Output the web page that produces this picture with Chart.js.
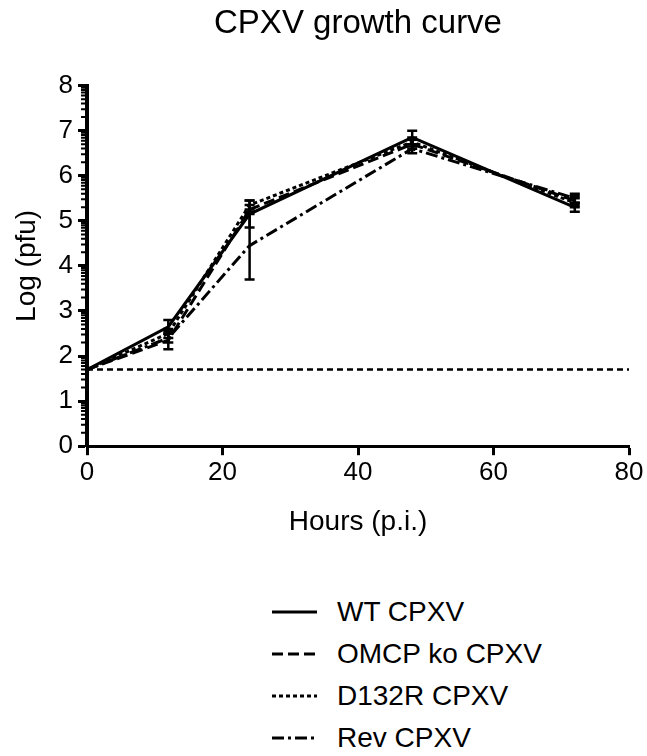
<!DOCTYPE html>
<html lang="en">
<head>
    <meta charset="UTF-8">
    <script src="https://cdn.jsdelivr.net/npm/chart.js@4.4.0/dist/chart.umd.min.js"></script>
    <title>CPXV growth curve</title>
    <style>
        body { margin: 0; background: #fff; font-family: "Liberation Sans", Arial, sans-serif; }
        #wrap { position: relative; width: 647px; height: 756px; }
        #box { position: absolute; left: 0; top: 0; width: 647px; height: 560px; }
        #legend { position: absolute; left: 272px; top: 591px; }
        .row { height: 42px; display: flex; align-items: center; font-size: 28px; color: #000; }
        .row svg { width: 45px; height: 10px; margin-right: 20px; }
    </style>
</head>
<body>
    <div id="wrap">
        <div id="box"><canvas id="myChart"></canvas></div>
        <div id="legend"></div>
    </div>
    <script>

        // hours post infection
        var hours = [0, 12, 24, 48, 72];

        var seriesNames = ['WT CPXV', 'OMCP ko CPXV', 'D132R CPXV', 'Rev CPXV'];
        var wtVals   = [1.7, 2.65, 5.15, 6.85, 5.3];
        var omcpVals = [1.7, 2.35, 5.25, 6.7, 5.45];
        var d132Vals = [1.7, 2.5, 5.35, 6.75, 5.4];
        var revVals  = [1.7, 2.4, 4.45, 6.6, 5.5];

        // SEM
        var wtErr   = [0, 0.15, 0.3, 0.15, 0.1];
        var omcpErr = [0, 0.2, 0.1, 0.1, 0.1];
        var d132Err = [0, 0.1, 0.1, 0.1, 0.1];
        var revErr  = [0, 0.1, 0.75, 0.1, 0.1];

        // detection limit
        var limitX = [0, 80];
        var limitY = [1.7, 1.7];

        var yTickLabels = ['0', '1', '2', '3', '4', '5', '6', '7', '8'];

        var dashes = [[], [11, 5], [4, 3], [12, 4, 3, 4]];

        function pts(xs, ys) {
            return xs.map(function (x, i) { return { x: x, y: ys[i] }; });
        }

        var allVals = [wtVals, omcpVals, d132Vals, revVals];
        var allErr = [wtErr, omcpErr, d132Err, revErr];

        var datasets = seriesNames.map(function (name, i) {
            return {
                label: name,
                data: pts(hours, allVals[i]),
                errors: allErr[i],
                borderColor: '#000',
                borderWidth: 3,
                borderDash: dashes[i],
                pointRadius: 0,
                fill: false
            };
        });
        datasets.push({
            label: 'limit',
            data: pts(limitX, limitY),
            borderColor: '#000',
            borderWidth: 2.5,
            borderDash: [6, 4],
            pointRadius: 0,
            fill: false
        });

        // error bars drawn from the data through the scales
        var errorBars = {
            id: 'errorBars',
            afterDatasetsDraw: function (chart) {
                var ctx = chart.ctx;
                var xs = chart.scales.x, ys = chart.scales.y;
                ctx.save();
                ctx.strokeStyle = '#000';
                ctx.lineWidth = 2.5;
                ctx.setLineDash([]);
                chart.data.datasets.forEach(function (ds) {
                    if (!ds.errors) return;
                    ds.data.forEach(function (p, i) {
                        var e = ds.errors[i];
                        if (!e) return;
                        var px = xs.getPixelForValue(p.x);
                        var top = ys.getPixelForValue(p.y + e);
                        var bot = ys.getPixelForValue(p.y - e);
                        ctx.beginPath();
                        ctx.moveTo(px, top); ctx.lineTo(px, bot);
                        ctx.moveTo(px - 5, top); ctx.lineTo(px + 5, top);
                        ctx.moveTo(px - 5, bot); ctx.lineTo(px + 5, bot);
                        ctx.stroke();
                    });
                });
                ctx.restore();
            }
        };

        // log-style minor ticks on the y axis
        var minorTicks = {
            id: 'minorTicks',
            afterDraw: function (chart) {
                var ctx = chart.ctx;
                var ys = chart.scales.y;
                var x = ys.right;
                ctx.save();
                ctx.strokeStyle = '#000';
                ctx.lineWidth = 2;
                ctx.beginPath();
                for (var n = 0; n < 8; n++) {
                    for (var k = 2; k <= 9; k++) {
                        var py = ys.getPixelForValue(n + Math.log10(k));
                        ctx.moveTo(x - 6, py);
                        ctx.lineTo(x, py);
                    }
                }
                ctx.stroke();
                ctx.restore();
            }
        };

        var font = "'Liberation Sans', Arial, sans-serif";

        var ctx = document.getElementById('myChart').getContext('2d');
        var myChart = new Chart(ctx, {
            type: 'line',
            data: { datasets: datasets },
            plugins: [errorBars, minorTicks],
            options: {
                responsive: true,
                maintainAspectRatio: false,
                animation: false,
                layout: { padding: { left: 0, right: 18, top: 0, bottom: 21 } },
                plugins: {
                    legend: { display: false },
                    tooltip: { enabled: false },
                    title: {
                        display: true,
                        text: 'CPXV growth curve',
                        fullSize: false,
                        color: '#000',
                        font: { family: font, size: 33, weight: 'normal' },
                        padding: { top: 4, bottom: 42 }
                    }
                },
                scales: {
                    x: {
                        type: 'linear',
                        min: 0,
                        max: 80,
                        ticks: { stepSize: 20, color: '#000', padding: 2, font: { family: font, size: 26 } },
                        grid: { drawOnChartArea: false, tickLength: 9, tickWidth: 3, tickColor: '#000' },
                        border: { color: '#000', width: 3 },
                        title: {
                            display: true,
                            text: 'Hours (p.i.)',
                            color: '#000',
                            font: { family: font, size: 28 },
                            padding: { top: 15, bottom: 0 }
                        }
                    },
                    y: {
                        type: 'linear',
                        min: 0,
                        max: 8,
                        afterFit: function (scale) { scale.width = 87; },
                        ticks: {
                            stepSize: 1,
                            color: '#000',
                            padding: 5,
                            font: { family: font, size: 26 },
                            callback: function (v) { return yTickLabels[v]; }
                        },
                        grid: { drawOnChartArea: false, tickLength: 9, tickColor: '#000', tickWidth: 3 },
                        border: { color: '#000', width: 4 },
                        title: {
                            display: true,
                            text: 'Log (pfu)',
                            color: '#000',
                            font: { family: font, size: 28 },
                            padding: { top: 10, bottom: 0 }
                        }
                    }
                }
            }
        });

        // legend below the chart
        var legend = document.getElementById('legend');
        seriesNames.forEach(function (name, i) {
            var row = document.createElement('div');
            row.className = 'row';
            row.innerHTML = '<svg viewBox="0 0 45 10"><line x1="0" y1="5" x2="45" y2="5" stroke="#000" stroke-width="3" stroke-dasharray="' +
                (dashes[i].length ? dashes[i].join(' ') : 'none') + '"/></svg><span>' + name + '</span>';
            legend.appendChild(row);
        });
    </script>
</body>
</html>
